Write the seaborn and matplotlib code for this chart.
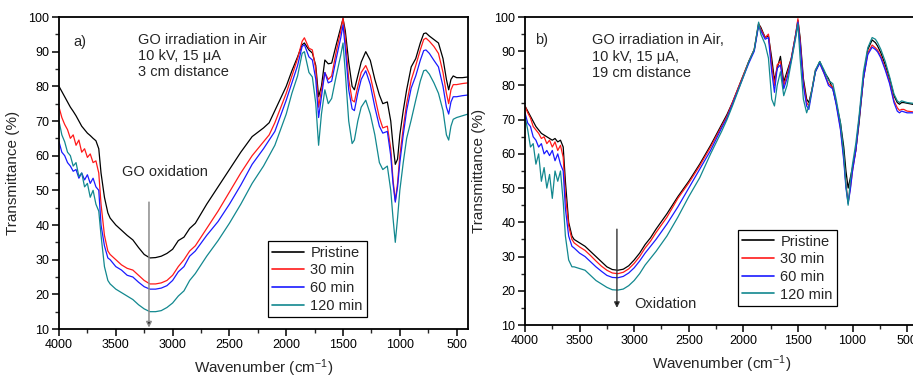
import numpy as np
import pandas as pd
import matplotlib
matplotlib.use("Agg")
import matplotlib.pyplot as plt
from matplotlib.ticker import MultipleLocator
from matplotlib.lines import Line2D
import seaborn as sns

# ---------------- data ----------------
WAVENUMBER = [4000, 3975, 3950, 3925, 3900, 3875, 3850, 3825, 3800, 3775, 3750, 3725, 3700, 3675, 3650,
              3630, 3600, 3570, 3550,
              3500, 3450, 3400, 3350, 3300, 3250, 3200, 3150, 3100, 3050, 3000, 2950, 2900, 2850, 2800,
              2700, 2600, 2500, 2400, 2300, 2200, 2150, 2100, 2000, 1950, 1900,
              1860, 1840, 1800, 1770, 1740, 1715, 1690, 1660, 1630, 1600,
              1560, 1520, 1500, 1480, 1450, 1420, 1400, 1370, 1340, 1300,
              1260, 1220, 1180, 1150, 1110, 1080, 1060, 1040, 1020, 1000,
              970, 940, 900, 860, 820, 790, 770, 740, 700, 660,
              620, 590, 570, 550, 530, 500, 450, 400]

SAMPLES = ["Pristine", "30 min", "60 min", "120 min"]

# panel a) 3 cm distance
A_PRISTINE = [80, 78.5, 77, 75.5, 74, 72.8, 71.5, 70, 68.5, 67.5, 66.5, 65.8, 65, 64.3, 62,
              55, 48, 43.5, 42,
              40, 38.5, 37, 35.7, 33.5, 31.5, 30.5, 30.6, 31, 31.8, 33, 35.5, 36.5, 39, 40.5,
              46, 51, 56, 61, 65.5, 68, 69.5, 73, 80, 84.5, 88.5,
              92, 92.5, 90.5, 89.6, 86, 77, 80, 87.6, 86.5, 86.7,
              92, 97, 99.5, 96, 87, 80, 79, 83, 87, 90,
              87.5, 82, 77.5, 75, 75.5, 70, 63, 57.5, 59, 66,
              73, 79, 85.6, 88, 92.5, 95.2, 95.4, 94.5, 93.5, 92.5,
              88, 82, 79, 82, 83, 82.5, 82.5, 82.7]
A_30 = [74, 71, 69, 67.5, 65, 66, 63, 64.5, 61, 62, 59.5, 60.5, 58, 58.5, 55,
        46, 37, 32.5, 31.5,
        30, 28.5, 27.5, 27, 25.5, 24, 23, 23, 23.3, 24, 25.5, 28, 30, 32.5, 34,
        39, 44, 49.5, 55, 60, 64, 66, 69.5, 78, 83, 88,
        93, 94, 91, 90.5, 85, 74, 79, 84, 82, 83,
        90, 96, 99.7, 94, 82, 76, 75.5, 80, 84, 86,
        83, 77, 71, 68, 68.5, 62, 53, 47, 52, 60,
        68, 75, 81.8, 86, 90.5, 93.5, 93.9, 93, 91.5, 89.5,
        84, 78, 75, 79, 80.5, 80.5, 80.8, 81]
A_60 = [64, 61, 60, 58, 57, 55.5, 56, 53.5, 55, 53, 54.5, 52, 53.5, 51, 50,
        40, 34, 30.5, 30,
        28, 27, 25.5, 25, 23.5, 22.2, 21.5, 21.5, 21.8, 22.5, 24, 26.5, 28, 31, 32.5,
        37, 41, 46, 51.5, 57.5, 62, 64.5, 67, 76, 81, 86,
        91.5, 92, 88.5, 87.6, 82, 71, 77, 84, 81, 81.5,
        88, 94, 97.7, 91, 79, 73.5, 73, 78, 82, 84.5,
        80.5, 74, 68.5, 66.5, 67, 60, 52, 46.6, 51, 58,
        66, 73, 79.5, 83, 87.5, 90.3, 90.5, 89.5, 87.5, 85.6,
        80, 74, 72, 75.5, 77, 77, 77.3, 77.5]
A_120 = [70, 66, 64, 61, 60, 57, 58, 54, 55, 51, 52, 48, 50, 46, 44,
         37, 28, 24, 23,
         21.5, 20.5, 19.5, 18.5, 17, 15.8, 15, 15, 15.3, 16.2, 17.5, 19.5, 21, 24, 26,
         31, 35.5, 40.5, 46, 52, 57, 60, 63, 72, 78, 83,
         89.5, 90, 84, 82.7, 75, 63, 72, 79, 75, 76.5,
         83, 89, 92.5, 84, 70, 63.5, 64.5, 70, 74, 76,
         72, 66, 58, 56, 57, 50, 42, 35, 42, 50,
         58, 65, 70.3, 76, 81.5, 84.5, 84.7, 83.5, 81, 78,
         73, 66, 64.5, 68.5, 70.5, 71, 71.5, 72]

# panel b) 19 cm distance
B_PRISTINE = [74, 72.5, 71, 69.5, 68, 67, 66, 65.5, 65, 64.5, 64, 64.5, 63.5, 64, 62,
              52, 40, 36, 35,
              34, 33, 31.5, 30, 28.5, 27, 26.2, 26, 26.3, 27.3, 29, 31, 33.5, 35.5, 38,
              42.5, 47.5, 52, 57, 62.5, 68.5, 71.5, 75, 83, 87, 90.5,
              98, 97, 94, 94.5, 88, 81.5, 85, 88.5, 81, 84,
              88, 95, 99, 94, 82, 76, 75, 79, 84, 87,
              84, 82, 79, 75, 69, 62, 55, 50, 53, 56,
              61, 69, 82, 90.5, 93.3, 92.5, 91.5, 89.5, 86, 82,
              77, 75, 74.5, 75, 75, 74.8, 74.5, 74.3]
B_30 = [74, 72, 70.5, 68, 67, 66, 64.5, 65, 63, 64, 62, 63.5, 61, 62.5, 59,
        48, 39, 35, 34,
        32.8, 31.8, 30.3, 28.7, 27.2, 26, 25.2, 25, 25.4, 26.4, 28, 30, 32.5, 34.5, 37,
        41.5, 47, 51.5, 56.5, 62, 68, 71, 75, 83, 87, 90.5,
        98, 96.5, 94, 95, 86, 80, 86, 87, 80, 83,
        88, 95, 99.5, 93, 81, 75, 74, 79, 84.5, 86.5,
        83.5, 80.5, 79.5, 75, 67.5, 59, 51, 46, 50, 55,
        61, 70, 82, 89.5, 91.8, 91, 90.3, 88.5, 85, 81,
        75.5, 73.5, 72.7, 73, 73, 72.5, 72.3, 72]
B_60 = [72, 69, 68, 65, 64, 62, 63, 60, 61, 59.5, 61, 58, 60, 57, 55,
        44, 36, 33, 32.5,
        31, 30, 28.5, 27, 25.7, 24.5, 23.9, 23.8, 24.2, 25.2, 26.7, 28.7, 31, 33, 35,
        39.5, 44.5, 50, 55.5, 61, 67.5, 70.5, 74.5, 82.5, 86.5, 90,
        97.5, 96, 93.5, 94, 84, 78, 85, 86, 79, 82,
        87.5, 94.5, 98.5, 92, 80, 74, 73, 78.5, 84, 86.5,
        83.5, 80, 79, 74.5, 67, 58, 50, 45.5, 49.5, 55,
        61, 70, 82, 89, 91.2, 90.5, 89.8, 88, 84.5, 80.5,
        75, 72.5, 72, 72.5, 72.3, 72, 72, 71.8]
B_120 = [71, 67, 62, 63, 57, 60, 52, 56, 50, 54, 47, 55, 52, 55, 46,
         36, 29, 27, 27,
         26.5, 26, 24.5, 23, 22, 21, 20.3, 20.2, 20.5, 21.5, 23, 25, 27.5, 29.5, 31.5,
         36, 41.5, 47.5, 53, 60, 66.5, 70, 74, 82.5, 87, 90.5,
         98.5, 95, 92, 88, 76, 74, 80, 84, 77, 80,
         87, 94, 98, 88, 76, 72, 74, 79, 84.5, 87,
         84.5, 81.5, 80.5, 76, 69, 60, 51, 45, 52, 57,
         63, 71, 84, 91, 94, 93.5, 92.5, 90.5, 87, 82.5,
         77.5, 75.5, 75, 75.5, 75.3, 75, 74.8, 74.5]

COLORS = ["#000000", "#ff1a1a", "#1a1aff", "#12888f"]

# ---------------- style ----------------
sns.set_theme(style="ticks")
plt.rcParams["font.family"] = ["Liberation Sans", "DejaVu Sans"]
plt.rcParams["mathtext.fontset"] = "custom"
plt.rcParams["mathtext.rm"] = "Liberation Sans"
plt.rcParams["mathtext.it"] = "Liberation Sans:italic"
plt.rcParams["axes.linewidth"] = 1.3


def long_frame(series):
    frames = []
    for name, vals in zip(SAMPLES, series):
        frames.append(pd.DataFrame({"wn": WAVENUMBER, "T": vals, "sample": name}))
    return pd.concat(frames, ignore_index=True)


fig = plt.figure(figsize=(9.13, 3.80), dpi=100)
ax_a = fig.add_axes([59 / 913, 1 - 329 / 380, 409 / 913, 312 / 380])
ax_b = fig.add_axes([525 / 913, 1 - 325 / 380, 393 / 913, 308 / 380])

panels = [
    (ax_a, [A_PRISTINE, A_30, A_60, A_120]),
    (ax_b, [B_PRISTINE, B_30, B_60, B_120]),
]

for ax, series in panels:
    df = long_frame(series)
    sns.lineplot(data=df, x="wn", y="T", hue="sample", hue_order=SAMPLES,
                 palette=COLORS, sort=False, estimator=None, lw=0.9,
                 ax=ax, legend=False)
    ax.set_xlim(4000, 400)
    ax.set_ylim(10, 100)
    ax.xaxis.set_major_locator(MultipleLocator(500))
    ax.xaxis.set_minor_locator(MultipleLocator(250))
    ax.yaxis.set_major_locator(MultipleLocator(10))
    ax.yaxis.set_minor_locator(MultipleLocator(5))
    ax.tick_params(which="major", direction="out", length=5, width=1.1,
                   labelsize=9, pad=2, top=False, right=False, colors="black")
    ax.tick_params(which="minor", direction="out", length=3, width=1.0,
                   top=False, right=False)
    for s in ax.spines.values():
        s.set_visible(True)
        s.set_color("black")
    ax.set_xlabel("Wavenumber (cm$^{\\mathregular{-1}}$)", fontsize=11, labelpad=5)
    ax.set_ylabel("Transmittance (%)", fontsize=11, labelpad=6)
    handles = [Line2D([0], [0], color=c, lw=1.2) for c in COLORS]
    leg_anchor = (0.511, 0.038) if ax is ax_a else (0.542, 0.062)
    leg = ax.legend(handles, SAMPLES, loc="lower left", bbox_to_anchor=leg_anchor,
                    borderaxespad=0, fontsize=10.5, frameon=True, fancybox=False,
                    framealpha=1, edgecolor="black", handlelength=2.2,
                    handletextpad=0.4, labelspacing=0.25, borderpad=0.3)
    leg.get_frame().set_linewidth(0.9)

# annotations panel a
ax_a.text(3877, 92.8, "a)", fontsize=10.5, va="center", ha="left")
ax_a.text(3305, 95.4, "GO irradiation in Air\n10 kV, 15 \u03bcA\n3 cm distance",
          fontsize=10.5, va="top", ha="left", linespacing=1.2)
ax_a.text(3446, 55.3, "GO oxidation", fontsize=10.5, va="center", ha="left")
ax_a.annotate("", xy=(3208, 10.4), xytext=(3208, 46.6),
              arrowprops=dict(arrowstyle="-|>", ec="#8a8a8a", fc="black",
                              lw=1.1, mutation_scale=8, shrinkA=0, shrinkB=0))

# annotations panel b
ax_b.text(3908, 93.3, "b)", fontsize=10.5, va="center", ha="left")
ax_b.text(3387, 95.2, "GO irradiation in Air,\n10 kV, 15 \u03bcA,\n19 cm distance",
          fontsize=10.5, va="top", ha="left", linespacing=1.2)
ax_b.text(3003, 16.1, "Oxidation", fontsize=10.5, va="center", ha="left")
ax_b.annotate("", xy=(3158, 15.0), xytext=(3158, 38),
              arrowprops=dict(arrowstyle="-|>", ec="#333333", fc="black",
                              lw=1.0, mutation_scale=8, shrinkA=0, shrinkB=0))

fig.savefig("out.png", dpi=100)
